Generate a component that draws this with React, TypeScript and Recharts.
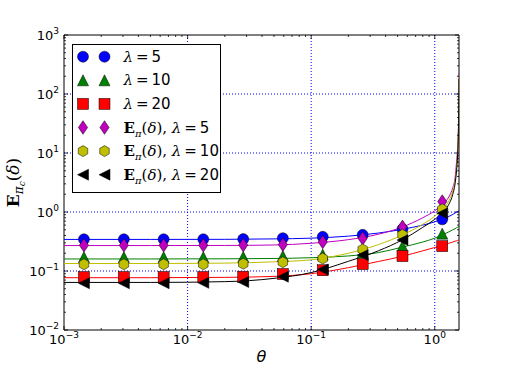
import React from 'react';
import {
  ComposedChart,
  Line,
  Scatter,
  XAxis,
  YAxis,
  ReferenceLine,
  ReferenceArea,
  Legend,
} from 'recharts';

// marker positions (theta) and values
const thetaMarkers = [0.00145, 0.00305, 0.0064, 0.0134, 0.0282, 0.059, 0.124, 0.261, 0.548, 1.15];
const lam5Markers = [0.345, 0.345, 0.345, 0.345, 0.347, 0.36, 0.38, 0.41, 0.51, 0.75];
const lam10Markers = [0.172, 0.172, 0.172, 0.172, 0.174, 0.18, 0.19, 0.205, 0.264, 0.43];
const lam20Markers = [0.079, 0.079, 0.079, 0.079, 0.08, 0.089, 0.103, 0.131, 0.179, 0.264];
const ePi5Markers = [0.273, 0.273, 0.273, 0.273, 0.275, 0.28, 0.31, 0.357, 0.56, 1.5];
const ePi10Markers = [0.13, 0.13, 0.13, 0.13, 0.133, 0.141, 0.163, 0.232, 0.41, 1.11];
const ePi20Markers = [0.062, 0.062, 0.062, 0.063, 0.065, 0.08, 0.106, 0.186, 0.334, 0.95];

// smooth curves
const thetaCurve = [0.001, 0.005, 0.02, 0.05, 0.1, 0.2, 0.35, 0.55, 0.8, 1.0, 1.15, 1.3, 1.4, 1.46, 1.5, 1.53, 1.55, 1.56, 1.5708];
const lam5Curve = [0.343, 0.343, 0.344, 0.35, 0.36, 0.39, 0.44, 0.51, 0.6, 0.68, 0.76, 0.84, 0.91, 0.96, 1.0, 1.02, 1.04, 1.05, 1.06];
const lam10Curve = [0.16, 0.16, 0.161, 0.163, 0.168, 0.18, 0.205, 0.255, 0.31, 0.36, 0.41, 0.46, 0.5, 0.52, 0.54, 0.55, 0.56, 0.56, 0.57];
const lam20Curve = [0.077, 0.077, 0.078, 0.081, 0.09, 0.114, 0.145, 0.178, 0.22, 0.25, 0.27, 0.295, 0.31, 0.32, 0.325, 0.33, 0.333, 0.334, 0.335];
const ePi5Curve = [0.27, 0.27, 0.271, 0.276, 0.295, 0.34, 0.42, 0.56, 0.8, 1.05, 1.35, 1.8, 2.6, 3.8, 7, 12, 22, 40, 220];
const ePi10Curve = [0.134, 0.134, 0.136, 0.143, 0.155, 0.2, 0.28, 0.41, 0.62, 0.85, 1.1, 1.55, 2.3, 3.4, 5.5, 10, 20, 40, 200];
const ePi20Curve = [0.064, 0.064, 0.066, 0.075, 0.094, 0.146, 0.22, 0.34, 0.55, 0.75, 0.95, 1.35, 2.0, 3.0, 5, 9, 18, 36, 180];

const xMajor = [0.001, 0.01, 0.1, 1];
const yMajor = [0.01, 0.1, 1, 10, 100, 1000];

const W = 511;
const H = 367;
const MARGIN = { top: 35, right: 52, bottom: 0, left: 0 };
const Y_AXIS_W = 64;
const X_AXIS_H = 37;
const PLOT_W = W - MARGIN.right - Y_AXIS_W;
const PLOT_H = H - MARGIN.top - X_AXIS_H;

const withMinors = (majors: number[], max: number) => {
  const out: number[] = [];
  majors.forEach((m) => {
    for (let k = 1; k <= 9; k++) {
      const v = m * k;
      if (v <= max * 1.0001) out.push(v);
    }
  });
  return out;
};
const xTicks = withMinors(xMajor, 1.5708);
const yTicks = withMinors(yMajor, 1000);

const isMajor = (v: number) => Math.abs(Math.log10(v) - Math.round(Math.log10(v))) < 1e-6;
const expOf = (v: number) => {
  const e = Math.round(Math.log10(v));
  return e < 0 ? `\u2212${-e}` : `${e}`;
};

const pts = (xs: number[], ys: number[]) => xs.map((x, i) => ({ x, y: ys[i] }));

const C = {
  b: '#0000ff',
  g: '#008000',
  r: '#ff0000',
  m: '#bf00bf',
  y: '#bfbf00',
  k: '#000000',
};

type Kind = 'circle' | 'triUp' | 'square' | 'diamond' | 'hexagon' | 'triLeft';

const Marker = ({ kind, cx, cy, color }: { kind: Kind; cx: number; cy: number; color: string }) => {
  const s = 5.5;
  const common = { fill: color, stroke: '#000', strokeWidth: 0.5 };
  switch (kind) {
    case 'circle':
      return <circle cx={cx} cy={cy} r={s} {...common} />;
    case 'triUp':
      return <polygon points={`${cx},${cy - s} ${cx + s},${cy + s} ${cx - s},${cy + s}`} {...common} />;
    case 'square':
      return <rect x={cx - s} y={cy - s} width={2 * s} height={2 * s} {...common} />;
    case 'diamond':
      return <polygon points={`${cx},${cy - 6.8} ${cx + 4.6},${cy} ${cx},${cy + 6.8} ${cx - 4.6},${cy}`} {...common} />;
    case 'hexagon': {
      const p = [0, 1, 2, 3, 4, 5]
        .map((i) => {
          const a = -Math.PI / 2 + (i * Math.PI) / 3;
          return `${cx + s * Math.cos(a)},${cy + s * Math.sin(a)}`;
        })
        .join(' ');
      return <polygon points={p} {...common} />;
    }
    default:
      return <polygon points={`${cx - s},${cy} ${cx + s},${cy - s} ${cx + s},${cy + s}`} {...common} />;
  }
};

const shapeOf = (kind: Kind, color: string) => (props: any) =>
  <Marker kind={kind} cx={props.cx} cy={props.cy} color={color} />;

const serif = 'DejaVu Serif';
const sans = 'DejaVu Sans';

const LamLabel = ({ n }: { n: string }) => (
  <>
    <tspan fontFamily={serif} fontStyle="italic">λ</tspan>
    <tspan fontFamily={sans}>{'\u2009=\u2009' + n}</tspan>
  </>
);
const EpiLabel = ({ n }: { n: string }) => (
  <>
    <tspan fontFamily={serif} fontWeight="bold">E</tspan>
    <tspan fontFamily={serif} fontStyle="italic" fontSize={10} dy={4}>π</tspan>
    <tspan fontFamily={serif} dy={-4}>(</tspan>
    <tspan fontFamily={serif} fontStyle="italic">δ</tspan>
    <tspan fontFamily={serif}>), </tspan>
    <LamLabel n={n} />
  </>
);

const series = [
  { key: 'l5', kind: 'circle' as Kind, color: C.b, marks: lam5Markers, curve: lam5Curve, label: <LamLabel n="5" /> },
  { key: 'l10', kind: 'triUp' as Kind, color: C.g, marks: lam10Markers, curve: lam10Curve, label: <LamLabel n="10" /> },
  { key: 'l20', kind: 'square' as Kind, color: C.r, marks: lam20Markers, curve: lam20Curve, label: <LamLabel n="20" /> },
  { key: 'e5', kind: 'diamond' as Kind, color: C.m, marks: ePi5Markers, curve: ePi5Curve, label: <EpiLabel n="5" /> },
  { key: 'e10', kind: 'hexagon' as Kind, color: C.y, marks: ePi10Markers, curve: ePi10Curve, label: <EpiLabel n="10" /> },
  { key: 'e20', kind: 'triLeft' as Kind, color: C.k, marks: ePi20Markers, curve: ePi20Curve, label: <EpiLabel n="20" /> },
];

const YTick = (props: any) => {
  const { x, y, payload } = props;
  const v = payload.value;
  const major = isMajor(v);
  const len = major ? 4 : 2;
  return (
    <g>
      <line x1={x} x2={x + len} y1={y} y2={y} stroke="#000" strokeWidth={0.8} />
      <line x1={x + PLOT_W - len} x2={x + PLOT_W} y1={y} y2={y} stroke="#000" strokeWidth={0.8} />
      {major && (
        <text x={x - 5} y={y + 5} textAnchor="end" fontFamily={sans} fontSize={13} fill="#000">
          10<tspan dy={-6} fontSize={9}>{expOf(v)}</tspan>
        </text>
      )}
    </g>
  );
};

const XTick = (props: any) => {
  const { x, y, payload } = props;
  const v = payload.value;
  const major = isMajor(v);
  const len = major ? 4 : 2;
  return (
    <g>
      <line x1={x} x2={x} y1={y} y2={y - len} stroke="#000" strokeWidth={0.8} />
      <line x1={x} x2={x} y1={y - PLOT_H} y2={y - PLOT_H + len} stroke="#000" strokeWidth={0.8} />
      {major && (
        <text x={x} y={y + 14} textAnchor="middle" fontFamily={sans} fontSize={13} fill="#000">
          10<tspan dy={-6} fontSize={9}>{expOf(v)}</tspan>
        </text>
      )}
    </g>
  );
};

const LegendBox = () => (
  <svg width={149} height={149} style={{ display: 'block' }}>
    <rect x={0.5} y={0.5} width={148} height={148} fill="#fff" stroke="#000" strokeWidth={1} />
    {series.map((s, i) => {
      const cy = 12.7 + i * 23.6;
      return (
        <g key={s.key}>
          <Marker kind={s.kind} cx={11} cy={cy} color={s.color} />
          <Marker kind={s.kind} cx={32.5} cy={cy} color={s.color} />
          <text x={51.5} y={cy + 5} fontSize={15} fill="#000">
            {s.label}
          </text>
        </g>
      );
    })}
  </svg>
);

const YTitle = () => (
  <text transform="translate(19,182.5) rotate(-90)" textAnchor="middle" fontSize={17} fill="#000">
    <tspan fontFamily={serif} fontWeight="bold">E</tspan>
    <tspan fontFamily={serif} fontStyle="italic" fontSize={12} dy={4}>π</tspan>
    <tspan fontFamily={serif} fontStyle="italic" fontSize={9} dy={2}>c</tspan>
    <tspan fontFamily={serif} dy={-6}>(</tspan>
    <tspan fontFamily={serif} fontStyle="italic">δ</tspan>
    <tspan fontFamily={serif}>)</tspan>
  </text>
);

const XTitle = () => (
  <text x={261.5} y={362} textAnchor="middle" fontFamily={sans} fontStyle="italic" fontSize={16} fill="#000">
    θ
  </text>
);

export default function App() {
  return (
    <div style={{ position: 'absolute', left: 0, top: 0, width: W, height: H, background: '#fff' }}>
      <ComposedChart width={W} height={H} margin={MARGIN}>
        <XAxis
          dataKey="x"
          type="number"
          scale="log"
          domain={[0.001, 1.5708]}
          allowDataOverflow
          ticks={xTicks}
          interval={0}
          tick={<XTick />}
          tickSize={0}
          tickMargin={0}
          tickLine={false}
          axisLine={false}
          height={X_AXIS_H}
          label={<XTitle />}
        />
        <YAxis
          dataKey="y"
          type="number"
          scale="log"
          domain={[0.01, 1000]}
          allowDataOverflow
          ticks={yTicks}
          interval={0}
          tick={<YTick />}
          tickSize={0}
          tickMargin={0}
          tickLine={false}
          axisLine={false}
          width={Y_AXIS_W}
          label={<YTitle />}
        />
        {xMajor.slice(1).map((v) => (
          <ReferenceLine key={`gx${v}`} x={v} stroke="#0000ff" strokeDasharray="1 2" strokeWidth={1} />
        ))}
        {yMajor.slice(1, -1).map((v) => (
          <ReferenceLine key={`gy${v}`} y={v} stroke="#0000ff" strokeDasharray="1 2" strokeWidth={1} />
        ))}
        {series.map((s) => (
          <Line
            key={`line-${s.key}`}
            data={pts(thetaCurve, s.curve)}
            dataKey="y"
            type="monotone"
            stroke={s.color}
            strokeWidth={1}
            dot={false}
            activeDot={false}
            legendType="none"
            isAnimationActive={false}
          />
        ))}
        {series.map((s) => (
          <Scatter
            key={`pts-${s.key}`}
            data={pts(thetaMarkers, s.marks)}
            dataKey="y"
            shape={shapeOf(s.kind, s.color)}
            isAnimationActive={false}
          />
        ))}
        <ReferenceArea x1={0.001} x2={1.5708} y1={0.01} y2={1000} fill="none" fillOpacity={0} stroke="#000" strokeWidth={1} />
        <Legend
          layout="vertical"
          align="center"
          verticalAlign="middle"
          content={() => <LegendBox />}
          wrapperStyle={{ left: 72, top: 44, width: 149, height: 149 }}
        />
      </ComposedChart>
    </div>
  );
}
